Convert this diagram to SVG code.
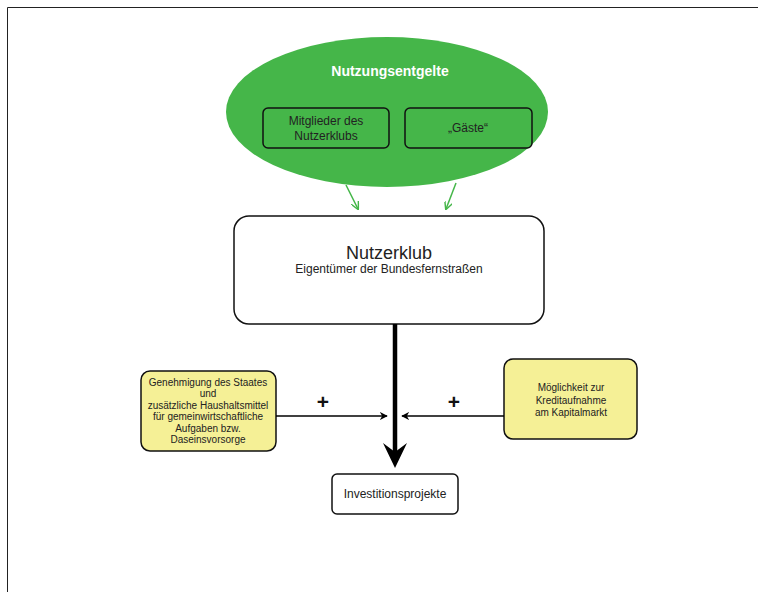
<svg xmlns="http://www.w3.org/2000/svg" width="758" height="592" viewBox="0 0 758 592">
<defs>
<style>
text{font-family:"Liberation Sans",Arial,sans-serif;fill:#222;text-anchor:middle}
.box{fill:#fff;stroke:#111;stroke-width:1.5}
.yb{fill:#f5f096;stroke:#111;stroke-width:1.5}
.gb{fill:none;stroke:#111;stroke-width:1.5}
.s{font-size:10px}
.m{font-size:12px}
.p{font-size:21px;font-weight:bold;fill:#111}
.conn{stroke:#000;stroke-width:1.5;fill:none}
.g{stroke:#45b649;stroke-width:1.5;fill:none}
</style>
<marker id="ah" viewBox="0 0 10 10" refX="9" refY="5" markerWidth="8" markerHeight="8" markerUnits="userSpaceOnUse" orient="auto"><path d="M0,0 L10,5 L0,10 L3,5 z" fill="#000"/></marker>
<marker id="ag" viewBox="0 0 10 10" refX="9" refY="5" markerWidth="8" markerHeight="8" markerUnits="userSpaceOnUse" orient="auto"><path d="M0,0 L10,5 L0,10" fill="none" stroke="#45b649" stroke-width="1.8"/></marker>
</defs>
<rect width="758" height="592" fill="#fff"/>
<path d="M7.5,592 V7.5 H758" fill="none" stroke="#222" stroke-width="1"/>
<g id="nutzungsentgelte">
<ellipse cx="387" cy="112" rx="161" ry="75" fill="#45b649"/>
<text x="390" y="76" style="font-size:14px;font-weight:bold;fill:#fff">Nutzungsentgelte</text>
</g>
<g id="mitglieder">
<rect class="gb" x="263" y="108" width="126" height="40" rx="5"/>
<text class="m" x="326" y="125">Mitglieder des</text>
<text class="m" x="326" y="140">Nutzerklubs</text>
</g>
<g id="gaeste">
<rect class="gb" x="405" y="108" width="127" height="40" rx="5"/>
<text class="m" x="468" y="132">„Gäste“</text>
</g>
<g id="nutzerklub">
<rect class="box" x="234" y="216" width="310" height="108" rx="15"/>
<text x="389" y="259" style="font-size:18px">Nutzerklub</text>
<text class="m" x="389" y="273">Eigentümer der Bundesfernstraßen</text>
</g>
<g id="staat">
<rect class="yb" x="141" y="371" width="135" height="80" rx="9"/>
<text class="s" x="208" y="386">Genehmigung des Staates</text>
<text class="s" x="208" y="397">und</text>
<text class="s" x="208" y="408.5">zusätzliche Haushaltsmittel</text>
<text class="s" x="208" y="420">für gemeinwirtschaftliche</text>
<text class="s" x="208" y="431.5">Aufgaben bzw.</text>
<text class="s" x="208" y="443">Daseinsvorsorge</text>
</g>
<g id="kapitalmarkt">
<rect class="yb" x="504" y="359" width="133" height="80" rx="9"/>
<text class="s" x="571" y="391">Möglichkeit zur</text>
<text class="s" x="571" y="404">Kreditaufnahme</text>
<text class="s" x="571" y="416">am Kapitalmarkt</text>
</g>
<g id="investitionsprojekte">
<rect class="box" x="332" y="474" width="126" height="40" rx="5"/>
<text class="m" x="395" y="498">Investitionsprojekte</text>
</g>
<g id="connectors">
<line class="g" x1="346" y1="185" x2="358" y2="209" marker-end="url(#ag)"/>
<line class="g" x1="456" y1="183" x2="446" y2="209" marker-end="url(#ag)"/>
<line x1="395" y1="324" x2="395" y2="452" stroke="#000" stroke-width="4.5"/>
<path d="M383,443 L395,468 L407,443 L395,452 z" fill="#000"/>
<line class="conn" x1="276" y1="416" x2="387" y2="416" marker-end="url(#ah)"/>
<line class="conn" x1="504" y1="416" x2="402" y2="416" marker-end="url(#ah)"/>
<text class="p" x="323" y="409">+</text>
<text class="p" x="454" y="409">+</text>
</g>
</svg>
